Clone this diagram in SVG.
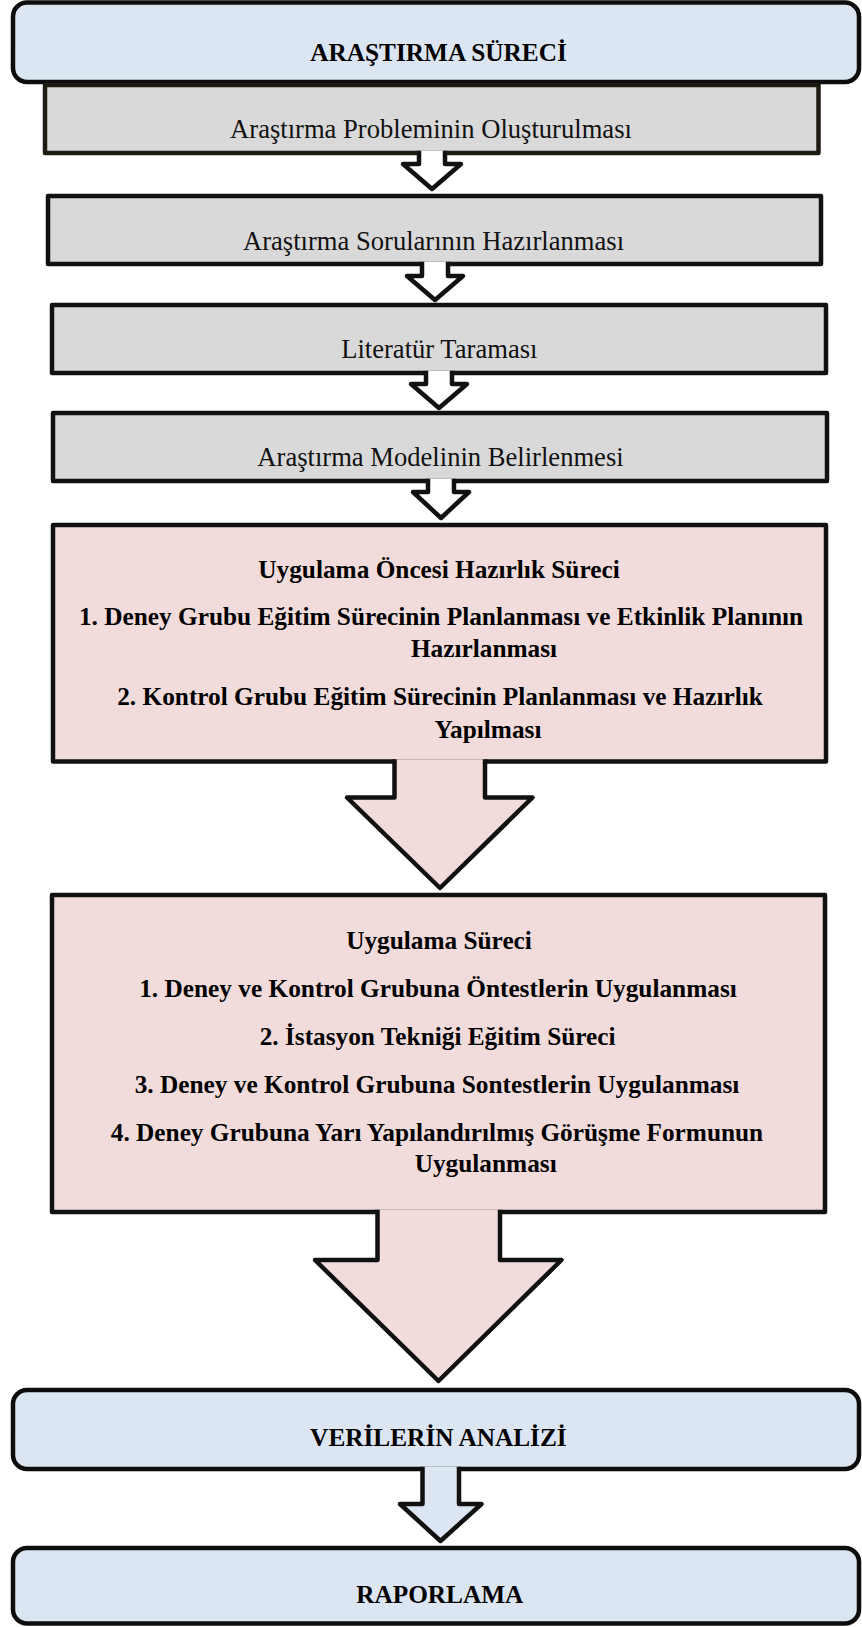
<svg xmlns="http://www.w3.org/2000/svg" width="862" height="1627" viewBox="0 0 862 1627">
<style>
.blue{fill:#dce6f2;stroke:#0d0d0d;stroke-width:4.5}
.gray{fill:#d9d9d9;stroke:#111;stroke-width:4.5;stroke-linejoin:round}
.pink{fill:#f2dcdb;stroke:#111;stroke-width:4.5;stroke-linejoin:round}
.arw{stroke:#111;stroke-width:4.5;stroke-linejoin:round;stroke-linecap:butt}
.reg{font-family:"Liberation Serif","Times New Roman",serif;font-size:26.6px;fill:#111;text-anchor:middle}
.bold{font-family:"Liberation Serif","Times New Roman",serif;font-size:25.3px;font-weight:bold;fill:#000;text-anchor:middle}
</style>
<rect width="862" height="1627" fill="#fff"/>
<g id="n-arastirma-sureci">
<rect class="blue" x="13" y="2.5" width="846" height="79.5" rx="14"/>
<text class="bold" x="438.5" y="61">ARAŞTIRMA SÜRECİ</text>
</g>
<g id="n-problem">
<rect class="gray" x="45" y="85" width="773.5" height="68" style="stroke:#1e1b12"/>
<text class="reg" x="431" y="137.5">Araştırma Probleminin Oluşturulması</text>
</g>
<g id="n-sorular">
<rect class="gray" x="48" y="196" width="773" height="68"/>
<text class="reg" x="433.5" y="249.5">Araştırma Sorularının Hazırlanması</text>
</g>
<g id="n-literatur">
<rect class="gray" x="52" y="305" width="774" height="68"/>
<text class="reg" x="439.3" y="357.5">Literatür Taraması</text>
</g>
<g id="n-model">
<rect class="gray" x="53" y="413" width="774" height="68"/>
<text class="reg" x="440.5" y="465.5">Araştırma Modelinin Belirlenmesi</text>
</g>
<g id="n-oncesi">
<rect class="pink" x="53" y="525" width="773" height="236.5"/>
<text class="bold" x="439" y="578">Uygulama Öncesi Hazırlık Süreci</text>
<text class="bold" x="441" y="625">1. Deney Grubu Eğitim Sürecinin Planlanması ve Etkinlik Planının</text>
<text class="bold" x="484" y="657">Hazırlanması</text>
<text class="bold" x="440" y="704.5">2. Kontrol Grubu Eğitim Sürecinin Planlanması ve Hazırlık</text>
<text class="bold" x="488" y="737.5">Yapılması</text>
</g>
<g id="n-uygulama">
<rect class="pink" x="52" y="895" width="773" height="317"/>
<text class="bold" x="439" y="949">Uygulama Süreci</text>
<text class="bold" x="438" y="996.5">1. Deney ve Kontrol Grubuna Öntestlerin Uygulanması</text>
<text class="bold" x="437.6" y="1044.5">2. İstasyon Tekniği Eğitim Süreci</text>
<text class="bold" x="437" y="1092.5">3. Deney ve Kontrol Grubuna Sontestlerin Uygulanması</text>
<text class="bold" x="437" y="1140.5">4. Deney Grubuna Yarı Yapılandırılmış Görüşme Formunun</text>
<text class="bold" x="485.7" y="1171.5">Uygulanması</text>
</g>
<g id="n-analiz">
<rect class="blue" x="13" y="1390" width="846" height="79" rx="14"/>
<text class="bold" x="438.4" y="1446">VERİLERİN ANALİZİ</text>
</g>
<g id="n-raporlama">
<rect class="blue" x="13" y="1548" width="846" height="75.5" rx="14"/>
<text class="bold" x="439.8" y="1603">RAPORLAMA</text>
</g>
<g id="connectors">
<path class="arw" fill="#fff" d="M419,150.8 V164 H403 L432,189 L461,164 H445 V150.8"/>
<path class="arw" fill="#fff" d="M422,261.8 V276 H407 L435,300 L463,276 H448 V261.8"/>
<path class="arw" fill="#fff" d="M426,370.8 V384 H411 L439,408 L467,384 H452 V370.8"/>
<path class="arw" fill="#fff" d="M428,478.8 V492 H413 L441,518 L469,492 H454 V478.8"/>
<path class="arw" fill="#f2dcdb" d="M394.5,759.3 V797.5 H347 L440,888 L532.5,797.5 H485 V759.3"/>
<path class="arw" fill="#f2dcdb" d="M377.5,1209.8 V1260 H315 L438.5,1381 L561.5,1260 H500 V1209.8"/>
<path class="arw" fill="#dce6f2" d="M422.5,1466.8 V1504 H400 L440.5,1541 L481.5,1504 H459 V1466.8"/>
</g>
</svg>
